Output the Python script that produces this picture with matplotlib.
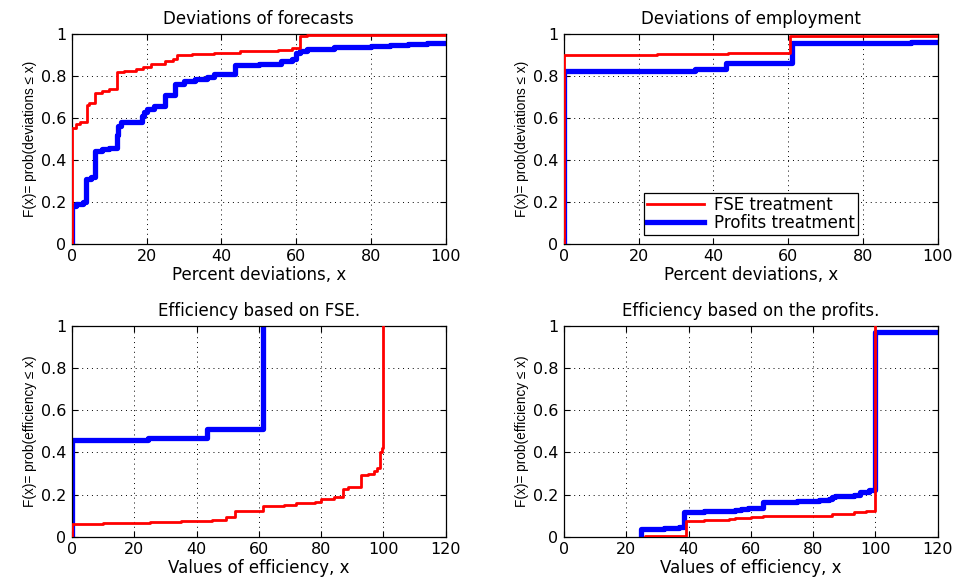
import matplotlib
matplotlib.use('Agg')
import matplotlib.pyplot as plt

plt.rcParams['font.family'] = ['DejaVu Sans']

# step points: from x[i] onward the cdf equals y[i]
fc_fse_x = [0, 0, 1, 2, 3.9, 4.5, 6.1, 8, 10, 11.9, 14, 17, 19, 21, 25, 27, 28, 32, 38, 45, 55, 59, 61, 63, 100]
fc_fse_y = [0, 0.55, 0.57, 0.58, 0.66, 0.67, 0.72, 0.73, 0.74, 0.82, 0.825, 0.835, 0.845, 0.86, 0.87, 0.88, 0.9, 0.905, 0.91, 0.92, 0.925, 0.935, 0.99, 0.995, 0.995]
fc_pro_x = [0, 0, 1, 3, 3.7, 5, 6.1, 8, 10, 11.9, 12.3, 13, 18.6, 19.3, 20, 22, 24.9, 27.5, 30, 33, 36, 38, 43.7, 50, 56, 59, 60, 61, 63, 70, 80, 85, 90, 95, 100]
fc_pro_y = [0, 0.18, 0.19, 0.2, 0.31, 0.32, 0.44, 0.45, 0.455, 0.52, 0.56, 0.58, 0.61, 0.63, 0.643, 0.655, 0.71, 0.763, 0.775, 0.785, 0.795, 0.81, 0.851, 0.86, 0.87, 0.88, 0.91, 0.92, 0.93, 0.94, 0.945, 0.95, 0.955, 0.96, 0.96]

em_fse_x = [0, 0, 25, 44, 60.6, 100]
em_fse_y = [0, 0.9, 0.905, 0.91, 0.99, 0.99]
em_pro_x = [0, 0, 25, 35, 43.5, 61, 93, 100]
em_pro_y = [0, 0.822, 0.826, 0.832, 0.862, 0.957, 0.962, 0.962]

ef_fse_x = [0, 0, 10, 25, 35, 45, 49.6, 52.4, 61.4, 68, 72, 78, 80.1, 84, 87, 88.5, 92.7, 95, 97, 98, 99, 99.5, 100]
ef_fse_y = [0, 0.06, 0.065, 0.07, 0.075, 0.08, 0.095, 0.122, 0.146, 0.152, 0.16, 0.165, 0.18, 0.19, 0.225, 0.235, 0.293, 0.3, 0.31, 0.325, 0.4, 0.42, 1.0]
ef_pro_x = [0, 0, 24.5, 43.2, 61.2]
ef_pro_y = [0, 0.459, 0.47, 0.51, 1.0]

ep_fse_x = [26, 26, 39.2, 45, 53, 55, 60, 64, 86, 93, 97, 100]
ep_fse_y = [0, 0.005, 0.076, 0.08, 0.085, 0.09, 0.095, 0.1, 0.11, 0.115, 0.12, 1.0]
ep_pro_x = [24.7, 24.7, 32, 37, 38.5, 45, 55, 57, 59, 64, 75, 82, 85, 86, 87, 93, 95, 98, 100, 120]
ep_pro_y = [0, 0.035, 0.04, 0.045, 0.119, 0.122, 0.127, 0.132, 0.137, 0.166, 0.17, 0.175, 0.18, 0.19, 0.195, 0.2, 0.21, 0.22, 0.973, 0.973]

panels = [
    ('Deviations of forecasts', 'Percent deviations, x', 'F(x)= prob(deviations ≤ x)',
     100, fc_fse_x, fc_fse_y, fc_pro_x, fc_pro_y),
    ('Deviations of employment', 'Percent deviations, x', 'F(x)= prob(deviations ≤ x)',
     100, em_fse_x, em_fse_y, em_pro_x, em_pro_y),
    ('Efficiency based on FSE.', 'Values of efficiency, x', 'F(x)= prob(efficiency ≤ x)',
     120, ef_fse_x, ef_fse_y, ef_pro_x, ef_pro_y),
    ('Efficiency based on the profits.', 'Values of efficiency, x', 'F(x)= prob(efficiency ≤ x)',
     120, ep_fse_x, ep_fse_y, ep_pro_x, ep_pro_y),
]

rects = [
    [0.0752, 0.580, 0.390, 0.361],
    [0.5887, 0.580, 0.390, 0.361],
    [0.0752, 0.0747, 0.390, 0.363],
    [0.5887, 0.0747, 0.390, 0.363],
]

fig = plt.figure(figsize=(9.58, 5.8), dpi=100)

for i, (title, xl, yl, xmax, rx, ry, bx, by) in enumerate(panels):
    ax = fig.add_axes(rects[i])
    ax.step(rx, ry, where='post', color='#ff0000', lw=2.0, label='FSE treatment', zorder=3)
    ax.step(bx, by, where='post', color='#0000ff', lw=3.8, label='Profits treatment', zorder=2)
    ax.set_xlim(0, xmax)
    ax.set_ylim(0, 1)
    ax.set_xticks(range(0, xmax + 1, 20))
    ax.set_yticks([0, 0.2, 0.4, 0.6, 0.8, 1])
    ax.set_yticklabels(['0', '0.2', '0.4', '0.6', '0.8', '1'])
    ax.grid(True, color='black', linestyle=(0, (1, 4)), linewidth=0.7)
    ax.tick_params(direction='in', top=True, right=True, labelsize=11.5, length=4, pad=4)
    for s in ax.spines.values():
        s.set_linewidth(0.9)
    ax.set_title(title, fontsize=12, pad=7)
    ax.set_xlabel(xl, fontsize=12, labelpad=1)
    ax.set_ylabel(yl, fontsize=9.8, labelpad=3, family='Liberation Sans')
    if i == 1:
        leg = ax.legend(loc='lower left', bbox_to_anchor=(0.2, 0.015), fontsize=12,
                        fancybox=False, edgecolor='black', framealpha=1,
                        handlelength=3.4, borderpad=0.2, borderaxespad=0.3,
                        labelspacing=0.0, handletextpad=0.6)
        leg.get_frame().set_linewidth(0.9)

fig.savefig('out.png', dpi=100)
